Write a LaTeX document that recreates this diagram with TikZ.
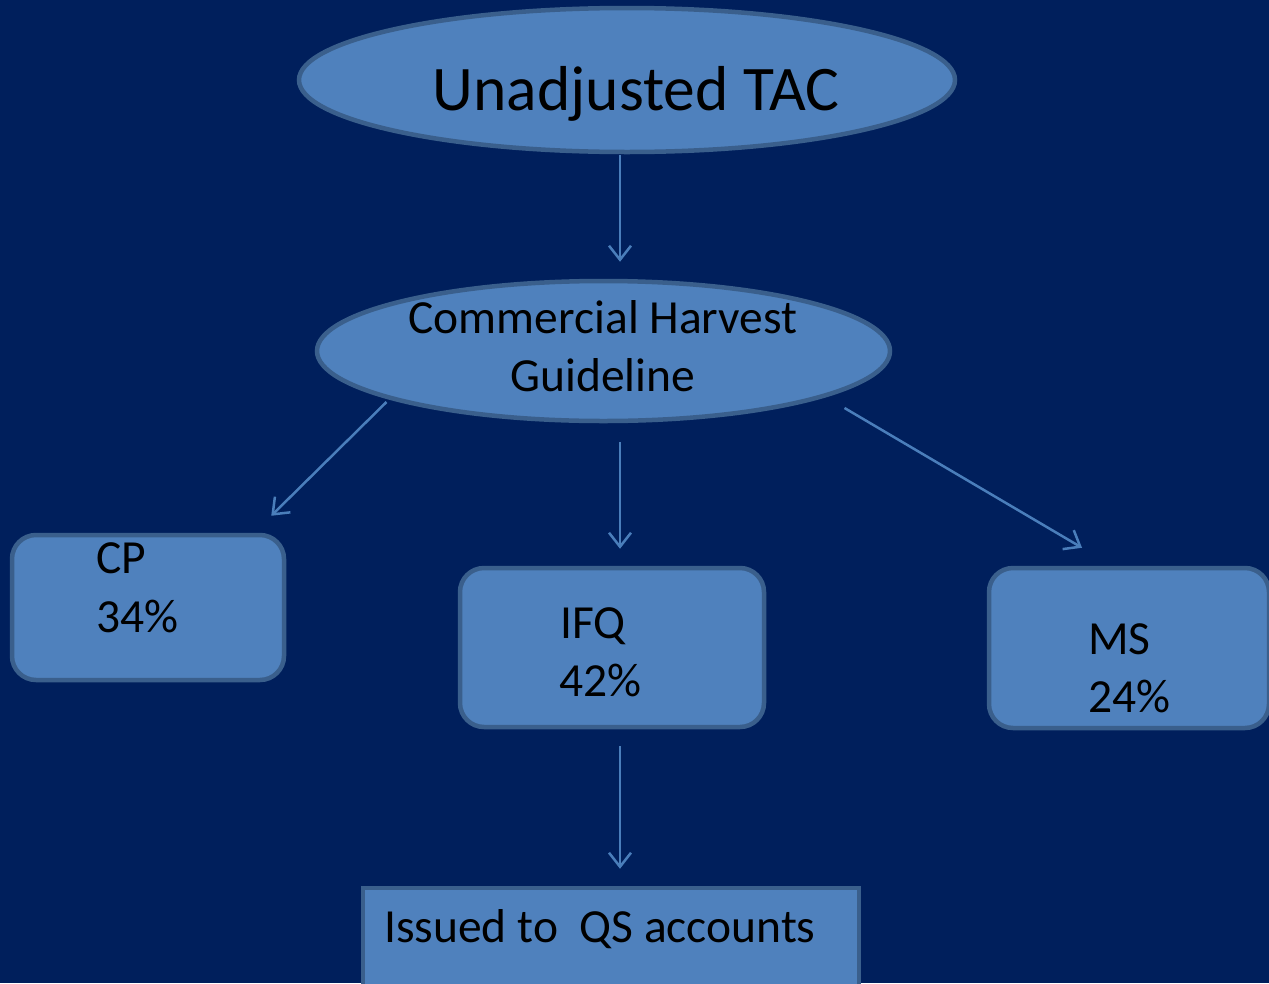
\documentclass[tikz,border=0pt]{standalone}
\usepackage{fontspec}
\setmainfont{Carlito}
\usetikzlibrary{shapes.geometric,arrows.meta,calc}
\definecolor{bg}{HTML}{001F5C}
\definecolor{fillb}{HTML}{4F81BD}
\definecolor{edgec}{HTML}{3A5F8C}
\definecolor{arrc}{HTML}{4A7EBB}
\begin{document}
\begin{tikzpicture}[x=1pt,y=-1pt,
  oval/.style={ellipse,draw=edgec,fill=fillb,line width=4.5pt,inner sep=0pt},
  rbox/.style={rectangle,rounded corners=24pt,draw=edgec,fill=fillb,line width=4.5pt,inner sep=0pt},
  sbox/.style={rectangle,draw=edgec,fill=fillb,line width=4.5pt,inner sep=0pt},
  lbl/.style={anchor=base west,inner sep=0pt,text=black,font=\fontsize{47.5}{57}\selectfont},
  biglbl/.style={anchor=base,inner sep=0pt,text=black,font=\fontsize{63.5}{74}\selectfont},
  arr/.style={draw=arrc,line width=2.5pt,-{Straight Barb[length=14pt,width=22pt,line width=2.5pt]}}]
\fill[bg] (0,0) rectangle (1269,983);
\useasboundingbox (0,0) rectangle (1269,983);
% shapes
\node[oval,minimum width=656,minimum height=144] (tac) at (627,80) {};
\node[oval,minimum width=573,minimum height=140] (chg) at (603.5,351) {};
\node[rbox,minimum width=272,minimum height=145] (cp) at (148,607.5) {};
\node[rbox,minimum width=304,minimum height=159] (ifq) at (612,647.5) {};
\node[rbox,minimum width=280,minimum height=160] (ms) at (1129,648) {};
\node[sbox,minimum width=496,minimum height=120] (qs) at (611,948) {};
% texts
\node[biglbl] (t1) at (636,110) {Unadjusted TAC};
\node[lbl,anchor=base] (t2) at (603,333) {Commercial Harvest};
\node[lbl,anchor=base] (t3) at (603,391) {Guideline};
\node[lbl] (t4) at (96,573) {CP};
\node[lbl] (t5) at (96,632) {34\%};
\node[lbl] (t6) at (560,638) {IFQ};
\node[lbl] (t7) at (559,696) {42\%};
\node[lbl] (t8) at (1088,654) {MS};
\node[lbl] (t9) at (1088,712) {24\%};
\node[lbl] (t10) at (384,942) {Issued to\ \ QS accounts};
% connectors
\draw[arr] ($(tac.south)+(-7,1)$) -- ($(chg.north)+(16.5,-17)$);
\draw[arr] ($(chg.center)+(-217,51)$) -- ($(cp.north east)+(-15,-17)$);
\draw[arr] ($(chg.south)+(16.5,19)$) -- ($(ifq.north)+(8,-17)$);
\draw[arr] ($(chg.center)+(241,57)$) -- ($(ms.north)+(-47,-18)$);
\draw[arr] ($(ifq.south)+(8,17)$) -- ($(qs.north)+(9,-17)$);
\end{tikzpicture}
\end{document}
